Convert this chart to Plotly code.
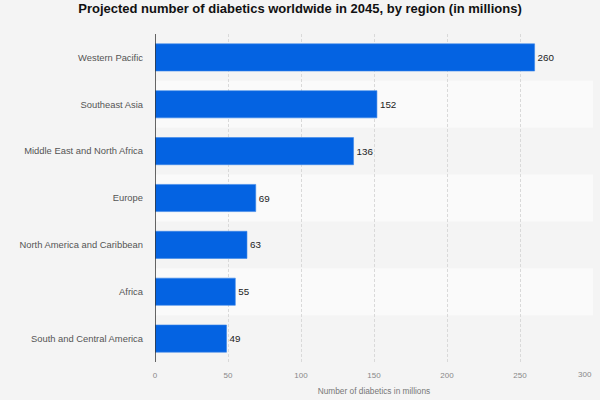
import plotly.graph_objects as go

regions = ["Western Pacific", "Southeast Asia", "Middle East and North Africa", "Europe",
           "North America and Caribbean", "Africa", "South and Central America"]
values = [260, 152, 136, 69, 63, 55, 49]
x_ticks = [0, 50, 100, 150, 200, 250, 300]

title = "Projected number of diabetics worldwide in 2045, by region (in millions)"
x_title = "Number of diabetics in millions"

BG = "#f4f4f4"
BAND = "#fafafa"
BAR = "#0463e2"
FONT = "Liberation Sans, Arial, sans-serif"

fig = go.Figure()
fig.add_trace(go.Bar(
    x=values, y=regions, orientation="h",
    marker=dict(color=BAR, line=dict(color="#3a86ea", width=0.6)),
    width=0.58,
    text=[str(v) for v in values], textposition="outside", cliponaxis=False,
    textfont=dict(family=FONT, size=9.8, color="#222222"),
    hoverinfo="skip",
))

shapes = []
for i in range(len(regions)):
    if i % 2 == 1:
        shapes.append(dict(type="rect", xref="paper", yref="y", x0=0, x1=1,
                           y0=i - 0.5, y1=i + 0.5, fillcolor=BAND, line_width=0,
                           layer="below"))

fig.update_layout(
    width=600, height=400,
    paper_bgcolor=BG, plot_bgcolor=BG,
    margin=dict(l=155, r=7, t=34, b=38, autoexpand=False),
    showlegend=False,
    title=dict(text="<b>" + title + "</b>", x=0.5, xanchor="center", y=0.978, yanchor="middle",
               font=dict(family=FONT, size=13, color="#111111")),
    shapes=shapes,
    xaxis=dict(range=[0, 300], tickvals=x_ticks, automargin=False,
               ticktext=[str(t) if t != 300 else "" for t in x_ticks],
               showgrid=True, gridcolor="#d9d9d9", griddash="3px,2px", gridwidth=1,
               zeroline=False, showline=False, ticks="", ticklabelstandoff=7,
               tickfont=dict(family=FONT, size=8, color="#888888"),
               title=dict(text=x_title, font=dict(family=FONT, size=8.3, color="#777777"), standoff=9)),
    yaxis=dict(autorange="reversed", showgrid=False, zeroline=False, automargin=False,
               showline=False, ticks="", ticklabelstandoff=11,
               tickfont=dict(family=FONT, size=9.4, color="#555555")),
    font=dict(family=FONT),
)

fig.add_vline(x=0, line=dict(color="#333333", width=1.5), layer="above")
fig.add_annotation(x=x_ticks[-1], y=0, xref="x", yref="paper", yanchor="middle", xanchor="center",
                   xshift=-8, yshift=-12, text=str(x_ticks[-1]), showarrow=False,
                   font=dict(family=FONT, size=8, color="#888888"))

fig.write_html("out.html")
